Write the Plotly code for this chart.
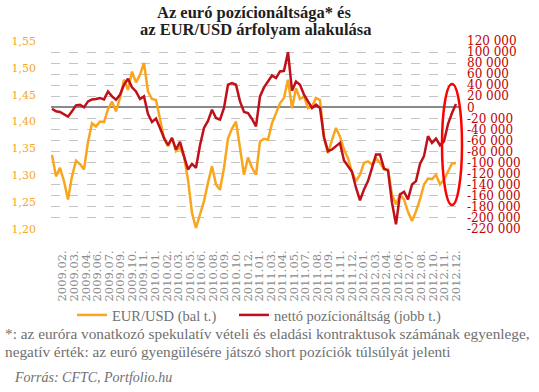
import numpy as np
import plotly.graph_objects as go

# ---------------- data (~2-week steps) ----------------
eurusd = [
    1.338, 1.298, 1.314, 1.289, 1.255, 1.298, 1.327, 1.321, 1.311, 1.362,
    1.397, 1.391, 1.400, 1.399, 1.423, 1.437, 1.419, 1.444, 1.478, 1.459,
    1.493, 1.473, 1.487, 1.509, 1.456,
    1.442, 1.440, 1.406, 1.369, 1.354, 1.369, 1.345, 1.352, 1.335, 1.292,
    1.230, 1.202, 1.227, 1.252, 1.286, 1.317, 1.283, 1.273, 1.314, 1.369,
    1.387, 1.400, 1.351, 1.301, 1.333,
    1.314, 1.301, 1.363, 1.368, 1.366, 1.397, 1.416, 1.434, 1.444, 1.478,
    1.425, 1.462, 1.442, 1.447, 1.425, 1.428, 1.444, 1.440, 1.369, 1.341,
    1.366, 1.388, 1.372, 1.348, 1.332,
    1.306, 1.289, 1.301, 1.323, 1.326, 1.320, 1.332, 1.323, 1.311, 1.311,
    1.264, 1.246, 1.264, 1.255, 1.232, 1.215, 1.233, 1.255, 1.283, 1.294,
    1.293, 1.301, 1.283, 1.292, 1.307, 1.322, 1.323,
]

net_position = [
    -2400, -7200, -8400, -12000, -16800, -7200, 3600, 4800, 0, 10800,
    14400, 15000, 16800, 14400, 28800, 19800, 13800, 22800, 40900, 51700,
    36100, 28800, 15000, 19800, -12000,
    -26400, -20400, -37300, -55300, -68500, -55300, -76300, -62500, -88300, -112400,
    -102200, -109400, -68500, -37300, -24600, -4200, -19200, -22200, -1200, 40900,
    43900, 40900, 10800, -8400, -10200,
    -21000, -34300, 19800, 36100, 48100, 57700, 52900, 64900, 66100, 99800,
    30100, 46900, 40900, 22800, 10800, -1200, 4800, -1200, -54100, -79300,
    -76300, -70300, -64300, -96200, -106400,
    -116600, -145400, -168300, -148400, -133400, -109400, -85300, -85300, -110600, -114200,
    -172500, -211600, -157500, -152700, -166500, -139400, -133400, -102200, -88300, -52300,
    -64300, -56500, -68500, -61300, -30100, -10200, 6000,
]

x_labels = [
    "2009.02.", "2009.03.", "2009.04.", "2009.06.", "2009.07.", "2009.09.",
    "2009.10.", "2009.11.", "2010.01.", "2010.02.", "2010.03.", "2010.05.",
    "2010.06.", "2010.08.", "2010.09.", "2010.10.", "2010.12.", "2011.01.",
    "2011.03.", "2011.04.", "2011.05.", "2011.07.", "2011.08.", "2011.09.",
    "2011.11.", "2011.12.", "2012.01.", "2012.03.", "2012.04.", "2012.06.",
    "2012.07.", "2012.08.", "2012.10.", "2012.11.", "2012.12.",
]

left_ticks = [1.20, 1.25, 1.30, 1.35, 1.40, 1.45, 1.50, 1.55]
left_ticktext = ["1,20", "1,25", "1,30", "1,35", "1,40", "1,45", "1,50", "1,55"]

right_ticks = [120000, 100000, 80000, 60000, 40000, 20000, 0, -20000, -40000,
               -60000, -80000, -100000, -120000, -140000, -160000, -180000,
               -200000, -220000]

series_names = ["EUR/USD (bal t.)", "nettó pozícionáltság (jobb t.)"]


def fmt_thousands(v):
    s = f"{abs(v):,}".replace(",", " ")
    return ("-" if v < 0 else "") + s


right_ticktext = [fmt_thousands(v) for v in right_ticks]

# ---------------- styling ----------------
ORANGE = "#F9A51E"
RED = "#C0101A"
W, H = 539, 392
PL, PR, PT, PB = 51, 460, 41, 229  # plot area in pixels


def px(xp):
    return (xp - PL) / (PR - PL)


def py(yp):
    return (PB - yp) / (PB - PT)


idx = list(range(len(eurusd)))
tickpos = np.linspace(2.675, len(eurusd) - 1, len(x_labels))

fig = go.Figure()
fig.add_trace(go.Scatter(x=idx, y=eurusd, name=series_names[0], mode="lines",
                         line=dict(color=ORANGE, width=2.5), yaxis="y", legend="legend"))
fig.add_trace(go.Scatter(x=idx, y=net_position, name=series_names[1], mode="lines",
                         line=dict(color=RED, width=2.5), yaxis="y2", legend="legend2"))

legend_font = dict(family="Liberation Serif", size=14.5, color="#707070")
fig.update_layout(
    width=W, height=H,
    margin=dict(l=PL, r=W - PR, t=PT, b=H - PB, pad=0, autoexpand=False),
    paper_bgcolor="white", plot_bgcolor="white",
    showlegend=True,
    legend=dict(orientation="h", x=px(72), y=py(315), xanchor="left", yanchor="middle",
                font=legend_font, bgcolor="rgba(0,0,0,0)", itemwidth=30),
    legend2=dict(orientation="h", x=px(234), y=py(315), xanchor="left", yanchor="middle",
                 font=legend_font, bgcolor="rgba(0,0,0,0)", itemwidth=30),
    xaxis=dict(range=[-0.25, len(eurusd)], tickvals=list(tickpos), ticktext=x_labels,
               tickangle=-90, showgrid=False, zeroline=False, showline=False, ticks="",
               automargin=False,
               tickfont=dict(family="DejaVu Serif", size=11.5, color="#8c8c8c"),
               ticklabelstandoff=18),
    yaxis=dict(range=[1.20, 1.55], tickvals=left_ticks, ticktext=left_ticktext,
               showgrid=False, zeroline=False, showline=False, ticks="", automargin=False,
               tickfont=dict(family="DejaVu Serif", size=11, color=ORANGE),
               ticklabelstandoff=14),
    yaxis2=dict(range=[-220000, 120000], tickvals=right_ticks, ticktext=right_ticktext,
                overlaying="y", side="right", showgrid=True, gridcolor="#c4c4c4",
                griddash="dash", gridwidth=1, zeroline=True, zerolinecolor="#8a8a8a",
                zerolinewidth=1.5, showline=False, ticks="", automargin=False,
                tickfont=dict(family="DejaVu Serif", size=12, color="#C00000"),
                ticklabelstandoff=6),
)

title_font = dict(family="Liberation Serif", size=16.5, color="#1e1e1e")
text_font = dict(family="Liberation Serif", size=15.3, color="#707070")
source_font = dict(family="Liberation Serif", size=14, color="#707070")

annotations = [
    dict(text="<b>Az euró pozícionáltsága* és</b>", x=px(254), y=py(13),
         xanchor="center", yanchor="middle", font=title_font),
    dict(text="<b>az EUR/USD árfolyam alakulása</b>", x=px(255), y=py(29.5),
         xanchor="center", yanchor="middle", font=title_font),
    dict(text="*: az euróra vonatkozó spekulatív vételi és eladási kontraktusok számának egyenlege,",
         x=px(3), y=py(333), xanchor="left", yanchor="middle", font=text_font),
    dict(text="negatív érték: az euró gyengülésére játszó short pozíciók túlsúlyát jelenti",
         x=px(3), y=py(351), xanchor="left", yanchor="middle", font=text_font),
    dict(text="<i>Forrás: CFTC, Portfolio.hu</i>", x=px(12), y=py(377),
         xanchor="left", yanchor="middle", font=source_font),
]
for a in annotations:
    a.update(xref="paper", yref="paper", showarrow=False)
fig.update_layout(annotations=annotations)

fig.add_shape(type="circle", xref="paper", yref="paper",
              x0=px(442), x1=px(462), y0=py(205), y1=py(84),
              line=dict(color="#FF0000", width=2.5))

fig.write_html("out.html", config={"displayModeBar": False},
               post_script="document.body.style.margin='0';document.body.style.padding='0';")
